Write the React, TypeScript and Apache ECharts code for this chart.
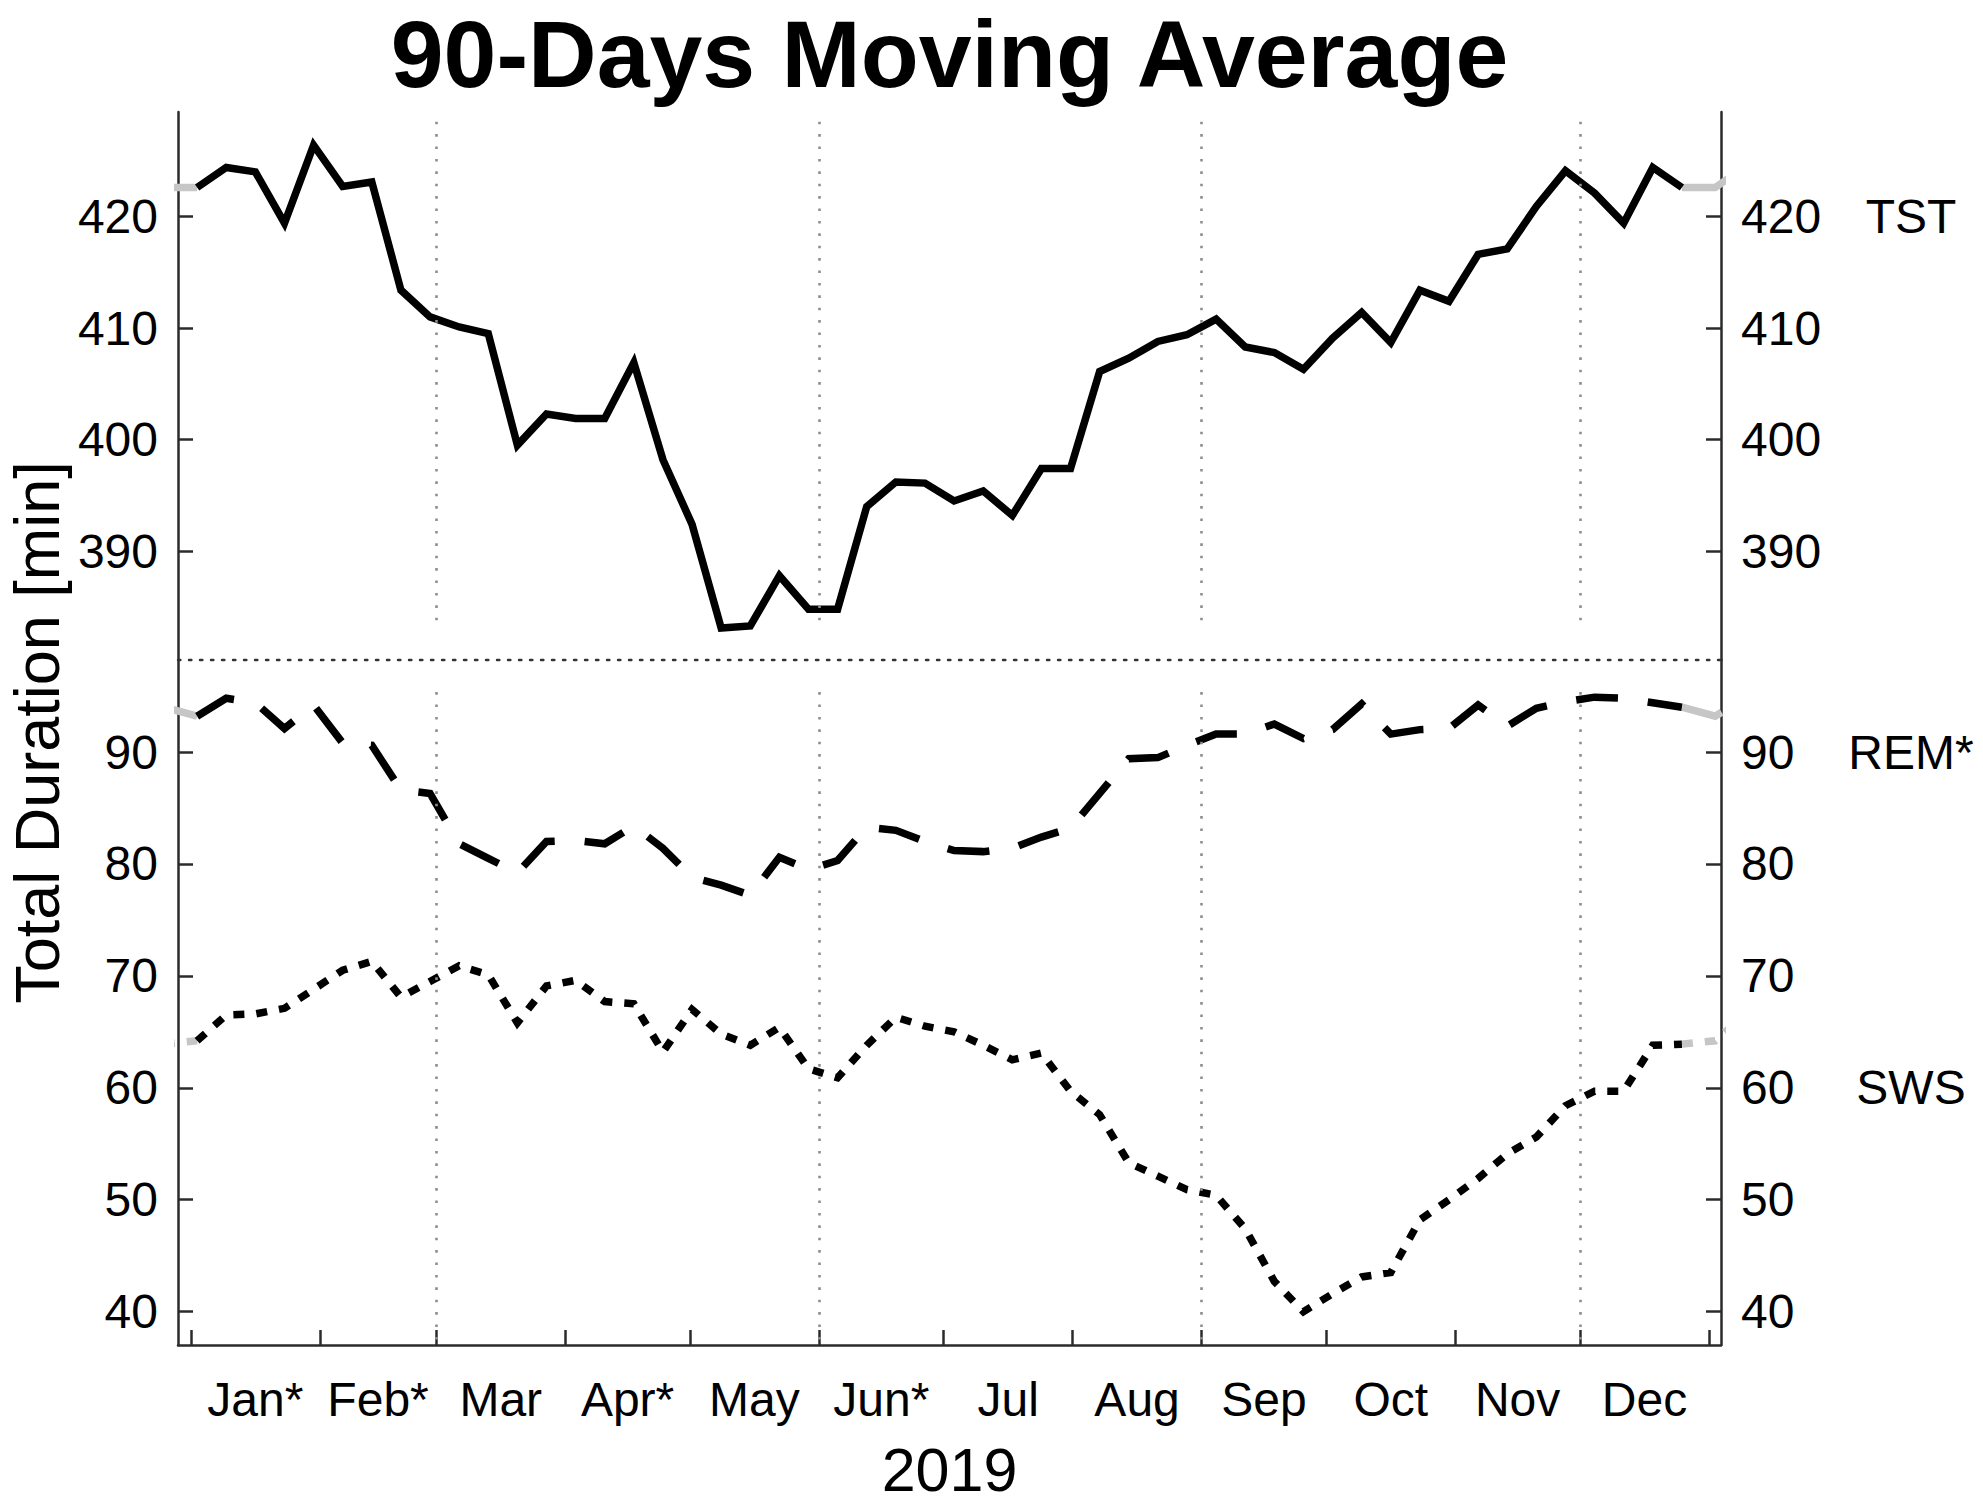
import React, { useEffect, useRef } from "react";
import * as echarts from "echarts";

// Day of year (2019) of each weekly 90-day moving-average point
const DAYS = [
  1.5, 8.5, 15.5, 22.5, 29.5, 36.5, 43.5, 50.5, 57.5, 64.5, 71.5, 78.5, 85.5,
  92.5, 99.5, 106.5, 113.5, 120.5, 127.5, 134.5, 141.5, 148.5, 155.5, 162.5,
  169.5, 176.5, 183.5, 190.5, 197.5, 204.5, 211.5, 218.5, 225.5, 232.5, 239.5,
  246.5, 253.5, 260.5, 267.5, 274.5, 281.5, 288.5, 295.5, 302.5, 309.5, 316.5,
  323.5, 330.5, 337.5, 344.5, 351.5, 358.5,
];

const TST = [
  422.6, 424.4, 424.0, 419.4, 426.4, 422.7, 423.1, 413.4, 411.0, 410.1, 409.5,
  399.5, 402.3, 401.9, 401.9, 406.9, 398.2, 392.4, 383.1, 383.3, 387.8, 384.8,
  384.8, 394.0, 396.2, 396.1, 394.5, 395.4, 393.2, 397.4, 397.4, 406.1, 407.3,
  408.8, 409.4, 410.8, 408.3, 407.8, 406.3, 409.1, 411.4, 408.7, 413.4, 412.4,
  416.6, 417.1, 420.9, 424.1, 422.1, 419.4, 424.4, 422.6,
];

const REM = [
  93.2, 94.8, 94.4, 92.1, 94.2, 90.8, 90.6, 86.6, 86.3, 81.8, 80.5, 79.2, 82.0,
  82.1, 81.8, 83.4, 81.4, 78.8, 78.1, 77.2, 80.6, 79.5, 80.3, 83.3, 83.0, 82.0,
  81.2, 81.1, 81.4, 82.4, 83.2, 86.3, 89.4, 89.5, 90.6, 91.6, 91.6, 92.5, 91.2,
  92.0, 94.3, 91.6, 92.0, 92.1, 94.2, 92.3, 93.9, 94.5, 94.9, 94.8, 94.4, 94.0,
];

const SWS = [
  64.2, 66.5, 66.6, 67.1, 68.8, 70.5, 71.3, 68.1, 69.5, 70.9, 70.1, 65.8, 69.1,
  69.6, 67.7, 67.5, 63.2, 67.0, 64.8, 63.8, 65.4, 61.7, 60.9, 63.8, 66.3, 65.5,
  65.0, 63.8, 62.5, 63.1, 59.7, 57.6, 53.3, 52.1, 50.9, 50.4, 47.4, 42.7, 40.0,
  41.6, 43.1, 43.5, 48.2, 50.0, 51.9, 54.1, 55.6, 58.4, 59.7, 59.7, 63.8, 63.9,
];

const MONTH_NAMES = [
  "Jan*", "Feb*", "Mar", "Apr*", "May", "Jun*", "Jul", "Aug", "Sep", "Oct", "Nov", "Dec",
];
const MONTH_STARTS = [0, 31, 59, 90, 120, 151, 181, 212, 243, 273, 304, 334, 365];
const QUARTER_STARTS = [59, 151, 243, 334];
const TST_TICKS = [390, 400, 410, 420];
const STAGE_TICKS = [40, 50, 60, 70, 80, 90];
const STAGE_LABELS = [
  { text: "TST", axis: 1, value: 420 },
  { text: "REM*", axis: 3, value: 90 },
  { text: "SWS", axis: 3, value: 60 },
];
const YEAR_LENGTH = 365;

const FONT = "'Liberation Sans', Arial, Helvetica, sans-serif";
const AXIS_COLOR = "#2b2b2b";
const GRAY = "#c6c6c6";
const LINE_W = 7.5;
const DASH = [42, 30];
const DOT = [11, 12];

const X_MIN = -3.1;
const X_MAX = 367.9;
const TOP_MIN = 380.24;
const TOP_MAX = 429.37;
const LOW_MIN = 37.02;
const LOW_MAX = 98.22;

const MONTH_MIDS = MONTH_NAMES.map(
  (_, i) => (MONTH_STARTS[i] + MONTH_STARTS[i + 1]) / 2
);

const mainData = (vals: number[]) => DAYS.map((d, i) => [d, vals[i]]);
const wrapLeft = (vals: number[]) => {
  const n = DAYS.length;
  return [
    [DAYS[n - 1] - YEAR_LENGTH, vals[n - 1]],
    [DAYS[0], vals[0]],
  ];
};
const wrapRight = (vals: number[]) => {
  const n = DAYS.length;
  return [
    [DAYS[n - 1], vals[n - 1]],
    [DAYS[0] + YEAR_LENGTH, vals[0]],
    [DAYS[1] + YEAR_LENGTH, vals[1]],
  ];
};

const tickFont = { fontSize: 48, fontFamily: FONT, color: "#000" };

function yAxis(grid: number, pos: "left" | "right", min: number, max: number, ticks: number[]) {
  return {
    type: "value",
    gridIndex: grid,
    position: pos,
    min,
    max,
    axisLine: { show: true, onZero: false, lineStyle: { color: AXIS_COLOR, width: 2.5 } },
    axisTick: {
      show: true,
      inside: true,
      length: 15,
      customValues: ticks,
      lineStyle: { color: AXIS_COLOR, width: 2.5 },
    },
    axisLabel: { show: true, customValues: ticks, margin: 20, ...tickFont },
    splitLine: { show: false },
  };
}

function lineSeries(
  name: string,
  xi: number,
  yi: number,
  data: number[][],
  color: string,
  type: any,
  z: number,
  extra: any = {}
) {
  return {
    type: "line",
    name,
    xAxisIndex: xi,
    yAxisIndex: yi,
    data,
    showSymbol: false,
    symbol: "none",
    silent: true,
    z,
    lineStyle: { color, width: LINE_W, type, cap: "butt", join: "miter" },
    ...extra,
  };
}

const vLineStyle = { color: "#8e8e8e", width: 2.6, type: [2.6, 9.8] };

function buildOption() {
  return {
    animation: false,
    backgroundColor: "#ffffff",
    grid: [
      { left: 178, right: 262, top: 112, height: 548 },
      { left: 178, right: 262, top: 660, height: 685 },
    ],
    xAxis: [
      {
        type: "value",
        gridIndex: 0,
        min: X_MIN,
        max: X_MAX,
        axisLine: { show: true, onZero: false, lineStyle: { color: "#333", width: 2.4, type: [2.4, 8.6] } },
        axisTick: { show: false },
        axisLabel: { show: false },
        splitLine: { show: false },
      },
      {
        type: "value",
        gridIndex: 1,
        min: X_MIN,
        max: X_MAX,
        axisLine: { show: true, onZero: false, lineStyle: { color: AXIS_COLOR, width: 2.5 } },
        axisTick: {
          show: true,
          inside: true,
          length: 15,
          customValues: MONTH_STARTS,
          lineStyle: { color: AXIS_COLOR, width: 2.5 },
        },
        axisLabel: {
          show: true,
          customValues: MONTH_MIDS,
          margin: 30,
          formatter: (v: number) => MONTH_NAMES[MONTH_MIDS.indexOf(v)] ?? "",
          ...tickFont,
        },
        splitLine: { show: false },
      },
    ],
    yAxis: [
      yAxis(0, "left", TOP_MIN, TOP_MAX, TST_TICKS),
      yAxis(0, "right", TOP_MIN, TOP_MAX, TST_TICKS),
      yAxis(1, "left", LOW_MIN, LOW_MAX, STAGE_TICKS),
      yAxis(1, "right", LOW_MIN, LOW_MAX, STAGE_TICKS),
    ],
    series: [
      lineSeries("TST wrap left", 0, 0, wrapLeft(TST), GRAY, "solid", 1),
      lineSeries("TST wrap right", 0, 0, wrapRight(TST), GRAY, "solid", 1),
      lineSeries("TST", 0, 0, mainData(TST), "#000", "solid", 2, {
        markLine: {
          silent: true,
          symbol: ["none", "none"],
          label: { show: false },
          lineStyle: vLineStyle,
          data: QUARTER_STARTS.map((d) => [{ coord: [d, 428.5] }, { coord: [d, 383.6] }]),
        },
      }),
      lineSeries("REM wrap left", 1, 2, wrapLeft(REM), GRAY, DASH, 1),
      lineSeries("REM wrap right", 1, 2, wrapRight(REM), GRAY, DASH, 1),
      lineSeries("REM*", 1, 2, mainData(REM), "#000", DASH, 2, {
        markLine: {
          silent: true,
          symbol: ["none", "none"],
          label: { show: false },
          lineStyle: vLineStyle,
          data: QUARTER_STARTS.map((d) => [{ coord: [d, 95.35] }, { coord: [d, LOW_MIN] }]),
        },
      }),
      lineSeries("SWS wrap left", 1, 2, wrapLeft(SWS), GRAY, DOT, 1),
      lineSeries("SWS wrap right", 1, 2, wrapRight(SWS), GRAY, DOT, 1),
      lineSeries("SWS", 1, 2, mainData(SWS), "#000", DOT, 2),
    ],
  };
}

function textEl(
  text: string,
  x: number,
  y: number,
  size: number,
  weight: string,
  rotation = 0,
  lineHeight?: number
) {
  return {
    type: "text",
    x,
    y,
    rotation,
    silent: true,
    style: {
      text,
      fill: "#000",
      fontSize: size,
      fontWeight: weight,
      fontFamily: FONT,
      font: `${weight} ${size}px ${FONT}`,
      lineHeight: lineHeight ?? size,
      align: "center",
      verticalAlign: "middle",
      textAlign: "center",
      textVerticalAlign: "middle",
    },
  };
}

export default function App() {
  const ref = useRef<HTMLDivElement>(null);
  useEffect(() => {
    if (!ref.current) return;
    const chart = echarts.init(ref.current, undefined, { renderer: "svg" });
    chart.setOption(buildOption() as any);
    const toY = (axis: number, v: number) =>
      chart.convertToPixel({ yAxisIndex: axis } as any, v) as unknown as number;
    const plotCenterX = chart.convertToPixel({ xAxisIndex: 1 } as any, (X_MIN + X_MAX) / 2) as unknown as number;
    const elements: any[] = [
      textEl("90-Days Moving Average", plotCenterX, 54, 95, "bold"),
      textEl("2019", plotCenterX, 1470, 61, "normal"),
      textEl("Total Duration [min]", 37, (toY(0, TOP_MAX) + toY(2, LOW_MIN)) / 2 + 4, 63, "normal", Math.PI / 2),
      ...STAGE_LABELS.map((s) => textEl(s.text, 1911, toY(s.axis, s.value), 48, "normal")),
    ];
    chart.setOption({ graphic: { elements } } as any);
    return () => chart.dispose();
  }, []);
  return (
    <div
      ref={ref}
      style={{ position: "absolute", left: 0, top: 0, width: 1983, height: 1505, background: "#fff" }}
    />
  );
}
